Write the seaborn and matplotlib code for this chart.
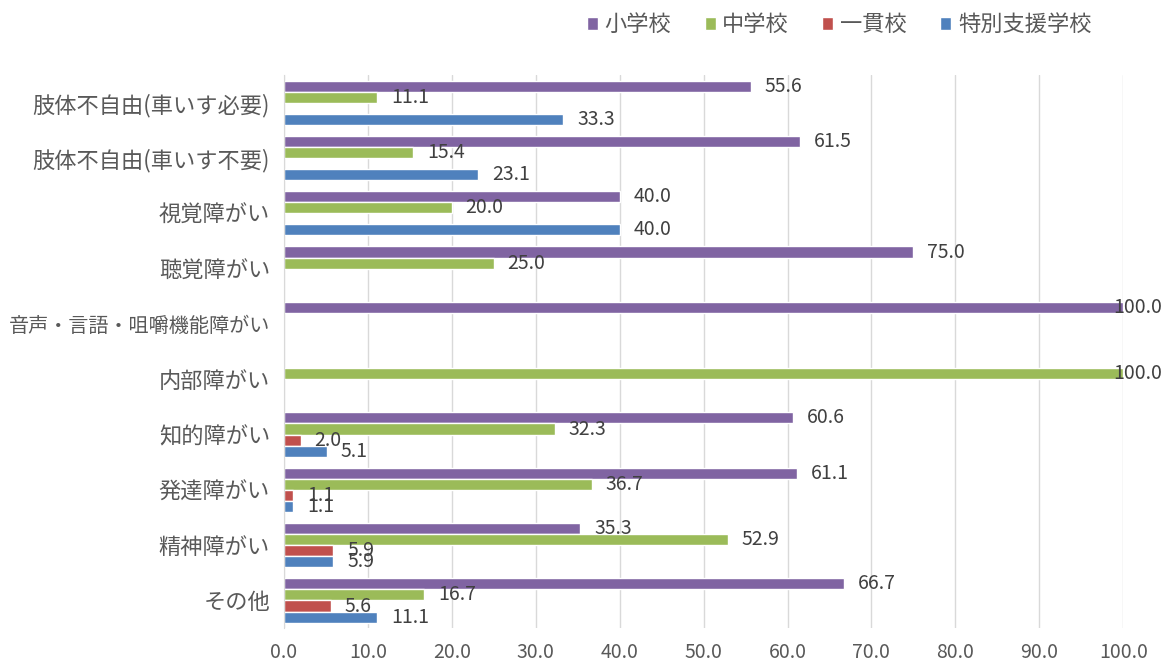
import pandas as pd
import seaborn as sns
import matplotlib.pyplot as plt
from matplotlib.patches import Patch

categories = ["肢体不自由(車いす必要)", "肢体不自由(車いす不要)", "視覚障がい", "聴覚障がい",
              "音声・言語・咀嚼機能障がい", "内部障がい", "知的障がい", "発達障がい",
              "精神障がい", "その他"]
schools = ["小学校", "中学校", "一貫校", "特別支援学校"]

# None = no bar in the original
elementary = [55.6, 61.5, 40.0, 75.0, 100.0, None, 60.6, 61.1, 35.3, 66.7]
junior_high = [11.1, 15.4, 20.0, 25.0, None, 100.0, 32.3, 36.7, 52.9, 16.7]
integrated = [None, None, None, None, None, None, 2.0, 1.1, 5.9, 5.6]
special_support = [33.3, 23.1, 40.0, None, None, None, 5.1, 1.1, 5.9, 11.1]

colors = ["#8064A2", "#9BBB59", "#C0504D", "#4F81BD"]

rows = []
for school, vals in zip(schools, [elementary, junior_high, integrated, special_support]):
    for cat, v in zip(categories, vals):
        if v is not None:
            rows.append({"category": cat, "school": school, "value": v})
df = pd.DataFrame(rows)

sns.set_style("white")
plt.rcParams["font.family"] = ["Noto Sans CJK JP", "DejaVu Sans"]

fig = plt.figure(figsize=(11.7, 6.64), dpi=100)
ax = fig.add_axes([0.2427, 0.054, 0.7173, 0.833])

sns.barplot(data=df, y="category", x="value", hue="school", order=categories,
            hue_order=schools, palette=colors, orient="h", width=0.8,
            saturation=1, legend=False, ax=ax)

for cont in ax.containers:
    texts = ax.bar_label(cont, fmt="%.1f", padding=10, fontsize=14, color="#404040")
    for t in texts:
        if t.get_text() == "100.0":
            t.xyann = (-7, 0)

ax.set_xlim(0, 100)
ax.set_xticks(range(0, 101, 10))
ax.set_xticklabels([f"{x:.1f}" for x in range(0, 101, 10)], fontsize=14, color="#595959")
ax.tick_params(axis="y", labelsize=16, colors="#595959", length=0, pad=10)
ax.tick_params(axis="x", length=0, pad=10)
for lbl in ax.get_yticklabels():
    if len(lbl.get_text()) > 12:
        lbl.set_fontsize(14.5)
ax.set_xlabel("")
ax.set_ylabel("")
ax.xaxis.grid(True, color="#D9D9D9", linewidth=1)
ax.set_axisbelow(True)
for s in ["top", "right", "bottom"]:
    ax.spines[s].set_visible(False)
ax.spines["left"].set_color("#D9D9D9")

handles = [Patch(facecolor=c, label=s) for c, s in zip(colors, schools)]
fig.legend(handles=handles, loc="upper right", bbox_to_anchor=(0.95, 1.01), ncol=4,
           frameon=False, fontsize=16, handlelength=0.5, handleheight=0.5,
           handletextpad=0.3, columnspacing=1.5, labelcolor="#595959")

fig.savefig("out.png", dpi=100)
